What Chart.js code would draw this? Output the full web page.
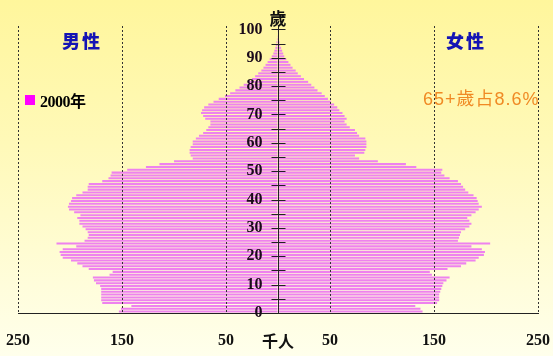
<!DOCTYPE html>
<html><head><meta charset="utf-8">
<script src="https://cdn.jsdelivr.net/npm/chart.js@4.4.0/dist/chart.umd.min.js"></script>
<style>
html,body{margin:0;padding:0;background:#fff;}
#wrap{position:relative;width:553px;height:356px;background:linear-gradient(to bottom,#FFF69C 0%,#FFF9B8 40%,#FFFFEC 100%);overflow:hidden;}
canvas{position:absolute;left:0;top:0;}
.t{position:absolute;white-space:nowrap;line-height:1;}
</style></head><body>
<div id="wrap">
<canvas id="c" width="553" height="356"></canvas>
<div class="t" style="left:278px;top:17px;transform:translate(-50%,-50%);font:700 17px 'Noto Sans CJK TC';color:#111;">歲</div>
<div class="t" style="left:82px;top:40px;transform:translate(-50%,-50%);font:900 18px 'Noto Sans CJK TC';color:#1414B4;letter-spacing:2px;">男性</div>
<div class="t" style="left:466px;top:40px;transform:translate(-50%,-50%);font:900 18px 'Noto Sans CJK TC';color:#1414B4;letter-spacing:2px;">女性</div>
<div class="t" style="left:423px;top:97px;transform:translateY(-50%);font:400 18px 'Liberation Sans','Noto Sans CJK TC';color:#F08A24;letter-spacing:1px;">65+歲占8.6%</div>
<div style="position:absolute;left:25px;top:95px;width:10px;height:10px;background:#FF00FF;"></div>
<div class="t" style="left:40px;top:100px;transform:translateY(-50%);font:700 16px 'Liberation Serif','Noto Sans CJK TC';color:#000;letter-spacing:-0.5px;">2000年</div>
</div>
<script>
// Population (thousands) by single year of age, 0..99, year 2000
const maleValues = [153,151,141,169,170,170,170,170,170,171,
  175,177,178,162,159,182,188,193,199,207,
  209,210,207,194,213,186,183,182,183,185,
  188,191,191,193,190,196,201,202,201,199,
  198,194,188,183,183,182,169,163,161,160,
  145,127,114,100,82,84,85,85,84,82,
  82,79,76,72,69,67,65,65,70,72,
  74,73,71,67,62,57,51,46,41,37,
  33,29,25,22,19,16,14,12,10,8,
  6,4.5,3.5,2.5,2,1.5,1,0.7,0.5,0.3];
const femaleValues = [139,137,132,153,155,155,155,156,157,158,
  159,162,165,148,146,163,176,181,190,193,
  198,199,196,186,204,173,174,175,176,180,
  184,186,184,182,186,190,193,196,193,192,
  191,188,183,180,178,176,173,165,160,157,
  158,133,123,96,78,74,83,84,85,85,
  85,84,78,76,74,69,66,64,66,64,
  62,59,57,54,51,48,45,42,38,35,
  32,29,25,22,19,17,14,12,10,8,
  6,5,4,3,2,1.5,1,0.8,0.5,0.3];
const seriesLabel = '2000年';
const yTickValues = [0,5,10,15,20,25,30,35,40,45,50,55,60,65,70,75,80,85,90,95,100];
const xTickValues = [-250,-150,-50,0,50,150,250];
const centerLabel = '千人';

const maleData = maleValues.map((v,i)=>({x:-v, y:i+0.5}));
const femaleData = femaleValues.map((v,i)=>({x:v, y:i+0.5}));

const barColor = '#EE82EE';
const axisTicks = {
  id:'axisTicks',
  afterDraw(chart){
    const {ctx, scales:{x,y}} = chart;
    const cx = Math.round(x.getPixelForValue(0)) + 0.5;
    ctx.save();
    ctx.strokeStyle = '#222'; ctx.lineWidth = 1;
    yTickValues.forEach(v=>{
      if(v===0) return;
      const py = Math.round(y.getPixelForValue(v)) + 0.5;
      ctx.beginPath(); ctx.moveTo(cx-7,py); ctx.lineTo(cx+7,py); ctx.stroke();
    });
    ctx.restore();
  }
};

new Chart(document.getElementById('c'), {
  type:'bar',
  data:{datasets:[
    {label:seriesLabel, data:maleData, backgroundColor:barColor, borderWidth:0, grouped:false, barPercentage:0.72, categoryPercentage:1, yAxisID:'y'},
    {label:seriesLabel, data:femaleData, backgroundColor:barColor, borderWidth:0, grouped:false, barPercentage:0.72, categoryPercentage:1, yAxisID:'y'}
  ]},
  options:{
    indexAxis:'y',
    responsive:false,
    animation:false,
    devicePixelRatio:1,
    layout:{padding:{left:18,right:15,top:26,bottom:0}},
    plugins:{legend:{display:false},tooltip:{enabled:false}},
    scales:{
      x:{
        type:'linear', min:-250, max:250,
        afterBuildTicks:(s)=>{ s.ticks = xTickValues.map(v=>({value:v})); },
        afterFit:(s)=>{ s.height = 43; s.paddingLeft = 0; s.paddingRight = 0; },
        grid:{color:(c)=> (c.tick && c.tick.value===0) ? 'rgba(0,0,0,0)' : '#333', lineWidth:1, drawTicks:false, z:1},
        border:{display:true,color:'#222',width:1,dash:[2,2],z:1},
        ticks:{
          z:1, padding:18, color:'#111', maxRotation:0, autoSkip:false,
          callback:(v)=> v===0 ? centerLabel : String(Math.abs(v)),
          font:(c)=> (c.tick && c.tick.value===0) ? {family:"'Noto Sans CJK TC'",size:16,weight:'bold'} : {family:"'Liberation Serif'",size:16,weight:'bold'}
        }
      },
      y:{
        type:'linear', min:0, max:101.2, position:{x:0}, offset:false,
        afterBuildTicks:(s)=>{ s.ticks = yTickValues.map(v=>({value:v})); },
        grid:{display:false, drawTicks:false, z:1},
        border:{display:true,color:'#222',width:1,z:1},
        ticks:{display:false}
      },
      yl:{
        type:'linear', min:0, max:101.2, position:{x:-15}, offset:false,
        afterBuildTicks:(s)=>{ s.ticks = yTickValues.map(v=>({value:v})); },
        grid:{display:false, drawTicks:false},
        border:{display:false},
        ticks:{display:true, z:1, padding:0, color:'#1a0a1a', autoSkip:false,
          callback:(v)=> v%10===0 ? String(v) : '',
          font:{family:"'Liberation Serif'",size:16,weight:'bold'}}
      }
    }
  },
  plugins:[axisTicks]
});
</script>
</body></html>
